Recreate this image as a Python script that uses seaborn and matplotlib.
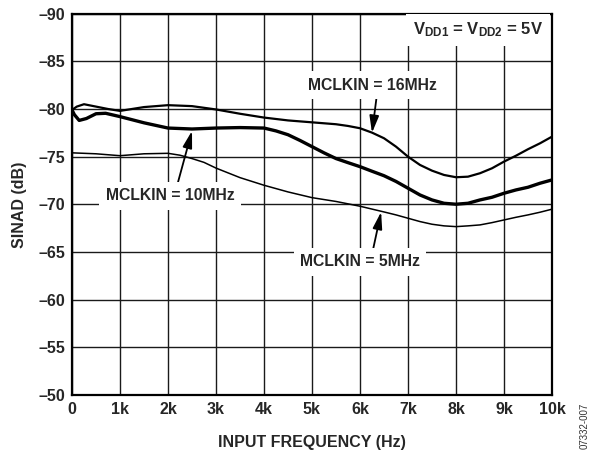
import numpy as np
import pandas as pd
import seaborn as sns
import matplotlib
matplotlib.use('Agg')
import matplotlib.pyplot as plt

# values (kHz, dB)
freq_16 = [0, 0.1, 0.25, 0.5, 0.75, 1, 1.5, 2, 2.5, 3, 3.5, 4, 4.5, 5, 5.5, 5.75, 6,
           6.25, 6.5, 6.75, 7, 7.25, 7.5, 7.75, 8, 8.25, 8.5, 8.75, 9, 9.25, 9.5, 9.75, 10]
sinad_16 = [-79.9, -80.25, -80.5, -80.25, -80.0, -79.8, -80.2, -80.4, -80.3, -79.95,
            -79.5, -79.1, -78.8, -78.6, -78.4, -78.22, -77.98, -77.52, -76.93, -76.05,
            -75.0, -74.13, -73.53, -73.08, -72.84, -72.9, -73.26, -73.78, -74.48, -75.1,
            -75.78, -76.4, -77.1]

freq_10 = [0, 0.05, 0.15, 0.3, 0.5, 0.7, 1, 1.5, 2, 2.5, 3, 3.5, 4, 4.25, 4.5, 4.75,
           5, 5.25, 5.5, 5.75, 6, 6.25, 6.5, 6.75, 7, 7.25, 7.5, 7.75, 8, 8.25, 8.5,
           8.75, 9, 9.25, 9.5, 9.75, 10]
sinad_10 = [-79.9, -79.4, -78.8, -79.0, -79.5, -79.55, -79.2, -78.55, -78.0, -77.9,
            -78.0, -78.05, -78.0, -77.7, -77.3, -76.7, -76.05, -75.4, -74.8, -74.37,
            -73.95, -73.47, -73.0, -72.4, -71.69, -70.98, -70.46, -70.11, -70.01, -70.11,
            -70.46, -70.74, -71.16, -71.51, -71.79, -72.21, -72.56]

freq_5 = [0, 0.5, 1, 1.5, 2, 2.25, 2.5, 2.75, 3, 3.5, 4, 4.5, 5, 5.5, 6, 6.5, 6.75,
          7, 7.25, 7.5, 7.75, 8, 8.25, 8.5, 8.75, 9, 9.25, 9.5, 9.75, 10]
sinad_5 = [-75.4, -75.3, -75.1, -75.3, -75.35, -75.15, -74.8, -74.4, -73.8, -72.8,
           -72.0, -71.3, -70.7, -70.3, -69.8, -69.2, -68.89, -68.54, -68.19, -67.91,
           -67.74, -67.66, -67.74, -67.84, -68.08, -68.36, -68.64, -68.89, -69.17, -69.49]

x_ticks = list(range(0, 11))
x_labels = ['0', '1k', '2k', '3k', '4k', '5k', '6k', '7k', '8k', '9k', '10k']
y_ticks = [-90, -85, -80, -75, -70, -65, -60, -55, -50]

sns.set_style('white')
plt.rcParams['font.family'] = ['Liberation Sans', 'DejaVu Sans']
plt.rcParams['font.weight'] = 'bold'
plt.rcParams['mathtext.fontset'] = 'custom'
plt.rcParams['mathtext.rm'] = 'Liberation Sans:bold'
plt.rcParams['mathtext.bf'] = 'Liberation Sans:bold'
plt.rcParams['mathtext.default'] = 'bf'

fig = plt.figure(figsize=(5.94, 4.55), dpi=100)
ax = fig.add_axes([0.1212, 0.1319, 0.8081, 0.8381])

sns.lineplot(x=freq_16, y=sinad_16, ax=ax, color='black', linewidth=1.6)
sns.lineplot(x=freq_10, y=sinad_10, ax=ax, color='black', linewidth=2.4)
sns.lineplot(x=freq_5, y=sinad_5, ax=ax, color='black', linewidth=1.1)

ax.set_xlim(0, 10)
ax.set_ylim(-50, -90)
ax.set_xticks(x_ticks)
ax.set_xticklabels(x_labels, fontsize=11.5, fontweight='bold')
ax.set_yticks(y_ticks)
ax.set_yticklabels(['\u2013' + str(abs(v)) for v in y_ticks], fontsize=11.5, fontweight='bold')
ax.tick_params(length=0, pad=5)
ax.grid(True, color='#1a1a1a', linewidth=1.0)
for s in ax.spines.values():
    s.set_color('black')
    s.set_linewidth(1.6)

ax.set_xlabel('INPUT FREQUENCY (Hz)', fontsize=11.5, fontweight='bold', labelpad=13)
ax.set_ylabel('SINAD (dB)', fontsize=11.5, fontweight='bold', labelpad=8)

box = dict(boxstyle='square,pad=0.4', fc='white', ec='none')
arrow = dict(arrowstyle='-|>,head_length=0.9,head_width=0.25', color='black', lw=1.3,
             shrinkA=0, shrinkB=0)

ax.annotate('MCLKIN = 16MHz', xy=(6.25, -77.5), xytext=(6.25, -82.5), ha='center', va='center',
            fontsize=11.3, fontweight='bold', bbox=box, arrowprops=dict(arrow, relpos=(0.54, 0)))
ax.annotate('MCLKIN = 10MHz', xy=(2.5, -77.7), xytext=(2.04, -70.9), ha='center', va='center',
            fontsize=11.3, fontweight='bold', bbox=box, arrowprops=dict(arrow, relpos=(0.55, 1)))
ax.annotate('MCLKIN = 5MHz', xy=(6.44, -69.2), xytext=(6.0, -63.96), ha='center', va='center',
            fontsize=11.3, fontweight='bold', bbox=box, arrowprops=dict(arrow, relpos=(0.6, 1)))

ax.text(9.81, -88.3, r'V$_{DD1}$ = V$_{DD2}$ = 5V', ha='right', va='center',
        fontsize=12, fontweight='bold', bbox=dict(boxstyle='square,pad=0.4', fc='white', ec='none'))

fig.text(0.985, 0.065, '07332-007', rotation=90, fontsize=7, fontweight='normal',
         color='#333333', ha='center', va='center')

fig.savefig('out.png', dpi=100)
